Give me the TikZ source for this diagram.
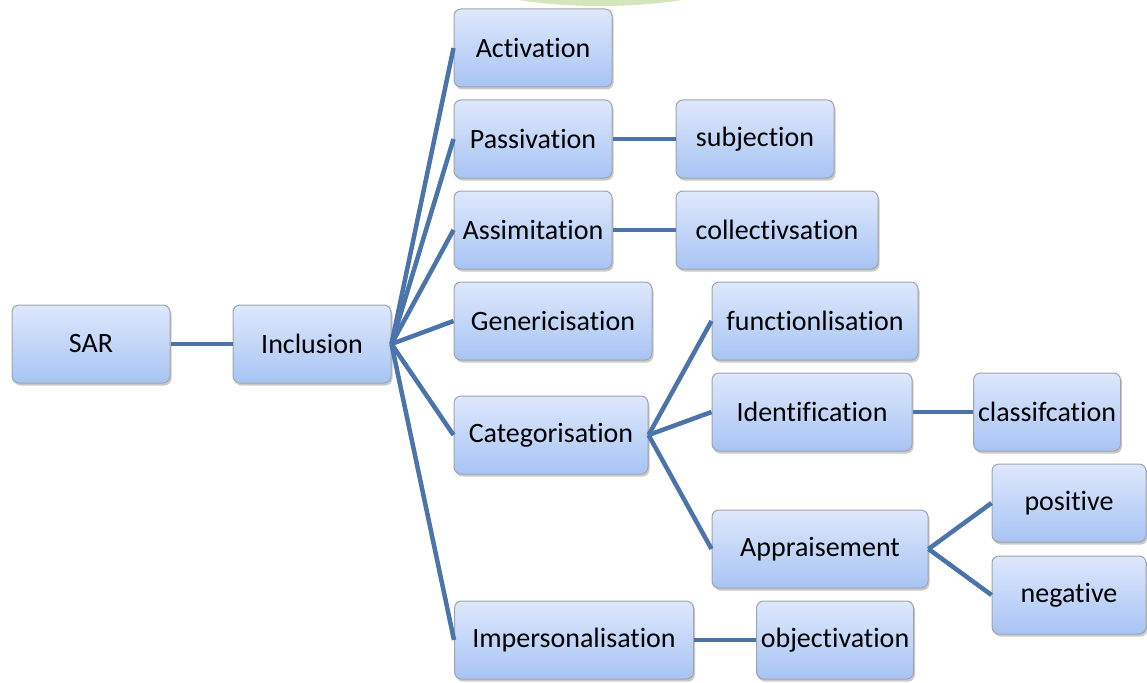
\documentclass[tikz,border=0pt]{standalone}
\usepackage{fontspec}
\setmainfont{Carlito}[Ligatures=NoCommon]
\usetikzlibrary{shadows}
\definecolor{boxtop}{RGB}{222,232,252}
\definecolor{boxbot}{RGB}{168,196,244}
\definecolor{boxline}{RGB}{160,164,172}
\definecolor{link}{RGB}{74,116,170}
\definecolor{leaf}{RGB}{213,229,187}
\tikzset{
    every picture/.append style={x=1pt, y=-1pt},
    box/.style={rectangle, rounded corners=7pt, draw=boxline, line width=1pt,
    	top color=boxtop, bottom color=boxbot, minimum height=78pt,
    	inner sep=0pt, font=\fontsize{28}{34}\selectfont,
    	drop shadow={shadow xshift=1.5pt, shadow yshift=-2.5pt,
    		opacity=.35, fill=black!60}},
    link/.style={draw=link, line width=4.5pt}
}

\begin{document}
\begin{tikzpicture}
	\useasboundingbox (0,0) rectangle (1147,682);
	\fill [leaf] (600,-62) ellipse [x radius=200, y radius=68];
	\node [box, minimum width=158pt] (sar) at (91,344) {SAR};
	\node [box, minimum width=158pt] (incl) at (312,344) {Inclusion};
	\node [box, minimum width=158pt] (act) at (533,48) {Activation};
	\node [box, minimum width=158pt] (pass) at (533,139) {Passivation};
	\node [box, minimum width=158pt] (assim) at (533,230) {Assimitation};
	\node [box, minimum width=198pt] (gen) at (553,321) {Genericisation};
	\node [box, minimum width=194pt] (cat) at (551,435) {Categorisation};
	\node [box, minimum width=239pt] (imp) at (574,640) {Impersonalisation};
	\node [box, minimum width=158pt] (subj) at (755,139) {subjection};
	\node [box, minimum width=202pt] (coll) at (777,230) {collectivsation};
	\node [box, minimum width=206pt] (func) at (815,321) {functionlisation};
	\node [box, minimum width=200pt] (ident) at (812,412) {Identification};
	\node [box, minimum width=216pt] (appr) at (820,549) {Appraisement};
	\node [box, minimum width=147pt] (class) at (1047,412) {classifcation};
	\node [box, minimum width=154pt] (pos) at (1069,503) {positive};
	\node [box, minimum width=154pt] (neg) at (1069,595) {negative};
	\node [box, minimum width=157pt] (obj) at (835,640) {objectivation};
	\draw [link] (sar) -- (incl);
	\foreach \n in {act,pass,assim,gen,cat,imp}
		\draw [link] (incl.east) -- (\n.west);
	\draw [link] (pass) -- (subj);
	\draw [link] (assim) -- (coll);
	\foreach \n in {func,ident,appr}
		\draw [link] (cat.east) -- (\n.west);
	\draw [link] (ident) -- (class);
	\draw [link] (appr.east) -- (pos.west);
	\draw [link] (appr.east) -- (neg.west);
	\draw [link] (imp) -- (obj);
\end{tikzpicture}
\end{document}
